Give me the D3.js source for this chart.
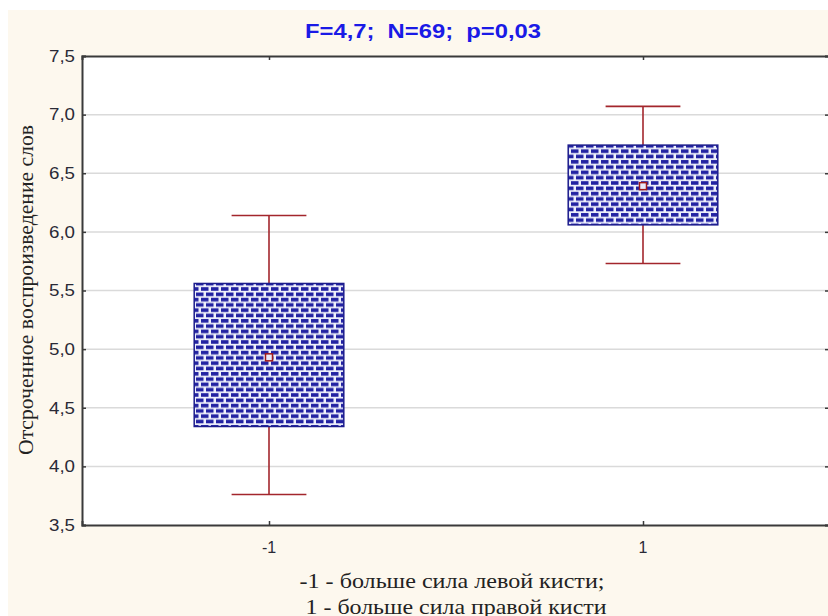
<!DOCTYPE html>
<html>
<head>
<meta charset="utf-8">
<script src="https://cdn.jsdelivr.net/npm/d3@7"></script>
<style>
  html, body { margin: 0; padding: 0; background: #ffffff; }
  svg { display: block; }
</style>
</head>
<body>
<svg id="chart" width="828" height="616"></svg>
<script>
// ---- data ----
const categories = [-1, 1];
const means = [4.93, 6.39];
const boxLow = [4.34, 6.06];
const boxHigh = [5.56, 6.74];
const whiskerLow = [3.76, 5.73];
const whiskerHigh = [6.14, 7.07];
const yTicks = [3.5, 4.0, 4.5, 5.0, 5.5, 6.0, 6.5, 7.0, 7.5];
const xTickLabels = ["-1", "1"];
const titleText = "F=4,7;  N=69;  p=0,03";
const yLabel = "Отсроченное воспроизведение слов";
const xLabelLines = ["-1 - больше сила левой кисти;", "1 - больше сила правой кисти"];

// ---- layout ----
const W = 828, H = 616;
const plot = { left: 82, right: 830, top: 56, bottom: 525 };

const svg = d3.select("#chart");

// backgrounds
svg.append("rect").attr("x", 0).attr("y", 0).attr("width", W).attr("height", H).attr("fill", "#ffffff");
svg.append("rect").attr("x", 8).attr("y", 10).attr("width", W - 8).attr("height", H - 10).attr("fill", "#fdf8ee");

const x = d3.scaleLinear().domain([-2, 2]).range([plot.left, plot.right]);
const y = d3.scaleLinear().domain([3.5, 7.5]).range([plot.bottom, plot.top]);

// plot area
svg.append("rect")
  .attr("x", plot.left).attr("y", plot.top)
  .attr("width", plot.right - plot.left).attr("height", plot.bottom - plot.top)
  .attr("fill", "#ffffff");

// pattern
const defs = svg.append("defs");
const pat = defs.append("pattern")
  .attr("id", "brick").attr("patternUnits", "userSpaceOnUse")
  .attr("width", 10).attr("height", 10.6);
pat.append("rect").attr("width", 10).attr("height", 10.6).attr("fill", "#eef0fb");
pat.append("rect").attr("x", 1).attr("y", 1).attr("width", 7.5).attr("height", 3.6).attr("fill", "#2222a2");
pat.append("rect").attr("x", 6).attr("y", 6.3).attr("width", 7.5).attr("height", 3.6).attr("fill", "#2222a2");
pat.append("rect").attr("x", -4).attr("y", 6.3).attr("width", 7.5).attr("height", 3.6).attr("fill", "#2222a2");

// grid lines
const fmt = d => d.toFixed(1).replace(".", ",");
svg.append("g").selectAll("line")
  .data(yTicks.filter(t => t > 3.5 && t < 7.5))
  .join("line")
  .attr("x1", plot.left).attr("x2", plot.right)
  .attr("y1", d => y(d)).attr("y2", d => y(d))
  .attr("stroke", "#dadada").attr("stroke-width", 1.5);

// axes
const axisColor = "#3a3a3a";
const leftAxis = svg.append("g").attr("transform", `translate(${plot.left},0)`)
  .call(d3.axisRight(y).tickValues(yTicks).tickSize(4).tickFormat(""));
const rightAxis = svg.append("g").attr("transform", `translate(${plot.right - 1},0)`)
  .call(d3.axisLeft(y).tickValues(yTicks).tickSize(4).tickFormat(""));
const bottomAxis = svg.append("g").attr("transform", `translate(0,${plot.bottom})`)
  .call(d3.axisTop(x).tickValues(categories).tickSize(4).tickFormat(""));
const topAxis = svg.append("g").attr("transform", `translate(0,${plot.top})`)
  .call(d3.axisBottom(x).tickValues(categories).tickSize(4).tickFormat(""));
[leftAxis, rightAxis, bottomAxis, topAxis].forEach(g => {
  g.select(".domain").attr("stroke", axisColor).attr("stroke-width", 2);
  g.selectAll(".tick line").attr("stroke", axisColor).attr("stroke-width", 1.5);
});

// tick labels
svg.append("g").selectAll("text")
  .data(yTicks).join("text")
  .attr("x", plot.left - 7).attr("y", d => y(d))
  .attr("dy", "0.36em").attr("text-anchor", "end")
  .attr("font-family", "Liberation Sans, Arial, sans-serif")
  .attr("font-size", 16).attr("fill", "#2a2a36")
  .attr("textLength", 26).attr("lengthAdjust", "spacingAndGlyphs")
  .text(fmt);

svg.append("g").selectAll("text")
  .data(categories).join("text")
  .attr("x", d => x(d)).attr("y", plot.bottom + 28)
  .attr("text-anchor", "middle")
  .attr("font-family", "Liberation Sans, Arial, sans-serif")
  .attr("font-size", 16).attr("fill", "#2a2a36")
  .text((d, i) => xTickLabels[i]);

// boxes
const boxHalf = 0.4, capHalf = 0.2;
const data = categories.map((c, i) => ({
  c, mean: means[i], lo: boxLow[i], hi: boxHigh[i], wlo: whiskerLow[i], whi: whiskerHigh[i]
}));
const whiskerColor = "#a3262c";
const g = svg.append("g");
data.forEach(d => {
  g.append("line").attr("x1", x(d.c)).attr("x2", x(d.c))
    .attr("y1", y(d.hi)).attr("y2", y(d.whi))
    .attr("stroke", whiskerColor).attr("stroke-width", 1.6);
  g.append("line").attr("x1", x(d.c)).attr("x2", x(d.c))
    .attr("y1", y(d.lo)).attr("y2", y(d.wlo))
    .attr("stroke", whiskerColor).attr("stroke-width", 1.6);
  g.append("line").attr("x1", x(d.c - capHalf)).attr("x2", x(d.c + capHalf))
    .attr("y1", y(d.whi)).attr("y2", y(d.whi))
    .attr("stroke", whiskerColor).attr("stroke-width", 1.6);
  g.append("line").attr("x1", x(d.c - capHalf)).attr("x2", x(d.c + capHalf))
    .attr("y1", y(d.wlo)).attr("y2", y(d.wlo))
    .attr("stroke", whiskerColor).attr("stroke-width", 1.6);
  g.append("rect")
    .attr("x", x(d.c - boxHalf)).attr("y", y(d.hi))
    .attr("width", x(d.c + boxHalf) - x(d.c - boxHalf))
    .attr("height", y(d.lo) - y(d.hi))
    .attr("fill", "url(#brick)")
    .attr("stroke", "#1c1c8c").attr("stroke-width", 1.5);
  g.append("rect")
    .attr("x", x(d.c) - 3.5).attr("y", y(d.mean) - 3.5)
    .attr("width", 7).attr("height", 7)
    .attr("fill", "#e8e8f8")
    .attr("stroke", "#a01818").attr("stroke-width", 1.5);
});

// title
svg.append("text")
  .attr("x", 423).attr("y", 38)
  .attr("text-anchor", "middle")
  .attr("font-family", "Liberation Sans, Arial, sans-serif")
  .attr("font-weight", "bold").attr("font-size", 21)
  .attr("fill", "#1a1ae6")
  .style("white-space", "pre")
  .attr("textLength", 236).attr("lengthAdjust", "spacingAndGlyphs")
  .text(titleText);

// y label
svg.append("text")
  .attr("transform", `translate(33,290) rotate(-90)`)
  .attr("text-anchor", "middle")
  .attr("font-family", "Liberation Serif, Times New Roman, serif")
  .attr("font-size", 20).attr("fill", "#222")
  .attr("textLength", 330).attr("lengthAdjust", "spacingAndGlyphs")
  .text(yLabel);

// x label
svg.append("g").selectAll("text")
  .data(xLabelLines).join("text")
  .attr("x", (d, i) => [452, 456][i]).attr("y", (d, i) => 588 + i * 26)
  .attr("text-anchor", "middle")
  .attr("font-family", "Liberation Serif, Times New Roman, serif")
  .attr("font-size", 22).attr("fill", "#222")
  .attr("textLength", (d, i) => [305, 301][i]).attr("lengthAdjust", "spacingAndGlyphs")
  .text(d => d);
</script>
</body>
</html>
